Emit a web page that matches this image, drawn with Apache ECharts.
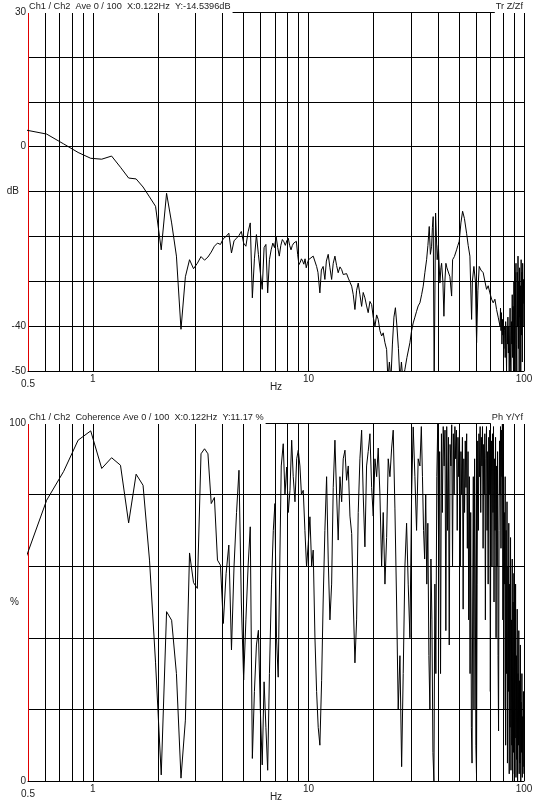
<!DOCTYPE html>
<html>
<head>
<meta charset="utf-8">
<script src="https://cdn.jsdelivr.net/npm/echarts@6/dist/echarts.min.js"></script>
<style>
  html, body { margin: 0; padding: 0; background: #fff; }
  #chart { width: 539px; height: 807px; }
</style>
</head>
<body>
<div id="chart"></div>
<script>
// grid lines / labels on the frequency axis
const xGridFreqs = [0.6, 0.7, 0.8, 0.9, 1, 2, 3, 4, 5, 6, 7, 8, 9, 10, 20, 30, 40, 50, 60, 70, 80, 90, 100];
const xLabelFreqs = [0.5, 1, 10, 100];
const magLabels = [30, 0, -40, -50];
const cohLabels = [100, 0];

// transfer function magnitude (dB)
const magFreq = [
  0.488, 0.610, 0.732, 0.854, 0.977, 1.099, 1.221, 1.343, 1.465, 1.587, 1.709, 1.831, 1.953, 2.075, 2.197, 2.319,
  2.441, 2.563, 2.686, 2.808, 2.930, 3.052, 3.174, 3.296, 3.418, 3.540, 3.662, 3.784, 3.906, 4.028, 4.150, 4.272,
  4.395, 4.517, 4.639, 4.761, 4.883, 5.005, 5.127, 5.249, 5.371, 5.493, 5.615, 5.737, 5.859, 5.981, 6.104, 6.226,
  6.348, 6.470, 6.592, 6.714, 6.836, 6.958, 7.080, 7.202, 7.324, 7.446, 7.568, 7.690, 7.812, 7.934, 8.057, 8.179,
  8.301, 8.423, 8.545, 8.667, 8.789, 8.911, 9.033, 9.155, 9.277, 9.399, 9.521, 9.644, 9.766, 9.888, 10.01,
  10.52, 10.91, 11.07, 11.30, 11.48, 11.70, 11.92, 12.11, 12.35, 12.58, 12.81, 13.03, 13.27, 13.51, 13.74, 14.00,
  14.26, 14.50, 14.77, 15.03, 15.30, 15.58, 15.87, 16.14, 16.43, 16.73, 17.02, 17.33, 17.65, 17.95, 18.28, 18.61,
  18.93, 19.29, 19.64, 19.98, 20.35, 20.72, 21.07, 21.46, 21.85, 22.23, 22.64, 23.05, 23.37, 23.74, 24.14, 24.52,
  24.92, 25.32, 25.73, 26.15, 26.57, 27.00, 27.43, 28.03, 28.63, 29.56, 30.10, 30.62, 31.18, 31.74, 32.29, 32.90,
  33.50, 34.08, 34.70, 35.33, 35.83, 36.34, 36.79, 37.27, 37.59, 37.91, 38.31, 38.89, 39.22, 39.56, 40.07, 40.73,
  41.17, 41.47, 42.05, 42.51, 42.96, 43.42, 43.89, 44.50, 45.32, 46.15, 46.64, 47.54, 48.67, 49.36, 50.06, 50.97,
  51.90, 52.91, 54.16, 55.09, 56.11, 57.14, 57.62, 58.56, 59.50, 60.26, 61.11, 61.97, 63.10, 64.67, 65.85, 67.04,
  68.21, 69.47, 70.74, 71.96, 73.28, 74.60, 75.90,
  77.4, 77.8, 78.2, 78.6, 79.0, 79.4, 79.8, 80.2, 80.6, 81.0, 81.4, 81.8, 82.2, 82.6, 83.0, 83.4,
  83.8, 84.2, 84.6, 85.0, 85.4, 85.8, 86.2, 86.6, 87.0, 87.4, 87.8, 88.2, 88.6, 89.0, 89.4, 89.8,
  90.2, 90.6, 91.0, 91.4, 91.8, 92.2, 92.6, 93.0, 93.4, 93.8, 94.2, 94.6, 95.0, 95.4, 95.8, 96.2,
  96.6, 97.0, 97.4, 97.8, 98.2, 98.6, 99.0, 99.4, 99.8
];
const magDb = [
  3.7, 2.8, 0.6, -1.3, -2.6, -2.8, -2.1, -4.6, -7.0, -7.2, -9.0, -11.2, -13.3, -23, -10.4, -17,
  -24.4, -40.7, -29, -25.2, -27.2, -26, -24.5, -25.3, -24.6, -23.5, -22.2, -21.5, -21.8, -20.5, -20.0, -19.3,
  -23.7, -21.0, -20.4, -19.8, -18.9, -21.5, -22.2, -19.0, -17.0, -33.7, -25.0, -19.6, -24, -28, -31.8, -22.5,
  -21.8, -32.6, -25.2, -23.0, -21.5, -22.5, -20.0, -22.5, -24.4, -22.0, -20.7, -21.2, -22.0, -21.0, -20.4, -22.0,
  -23.0, -22.0, -21.5, -21.8, -21.1, -24.0, -26.3, -25.8, -25.0, -25.5, -26.2, -25.0, -27.0, -26.0, -25.2,
  -24.4, -26.7, -28, -32.6, -27.5, -26.7, -29.6, -25.5, -24, -27, -29.6, -26, -24.4, -26.5, -28.1, -26.8,
  -27.4, -28.5, -28.9, -28.3, -29.3, -30.2, -31.1, -33, -36.3, -32, -30.4, -33, -35.6, -32.5, -33.7, -35.5,
  -37, -34.5, -35.2, -38, -40, -37.5, -38.5, -41, -42.2, -41.5, -43.7, -45.2, -52, -48, -52, -44,
  -38, -35.9, -40, -45, -52, -48, -52, -49.6, -47, -43.7, -41, -39.3, -38, -36.7, -35.5, -34.8,
  -33, -31.1, -28, -25.2, -22, -17.8, -24, -22.2, -18, -15.6, -52, -14.8, -20, -25.2, -22, -30.4,
  -27, -26, -30, -37.8, -30, -26, -27, -26.7, -29, -33.3, -25.2, -24.5, -23, -22, -21.1, -17,
  -14.4, -16, -19.3, -22, -24.4, -38.5, -30, -26.7, -30, -43.7, -32, -26.7, -27.5, -28.1, -30, -31.8,
  -31, -32.6, -34, -34.8, -34, -36.3, -38,
  -40, -36, -41, -37, -44, -38.5, -42, -38.5, -45, -40, -41, -47, -39, -43.7, -50, -40,
  -44, -38, -46, -40, -52, -42.2, -36, -48, -52, -39, -44, -33, -47, -35.6, -52, -30,
  -45, -28, -50, -30, -26, -44, -52, -28, -40, -24.4, -45, -30, -52, -27, -38, -31,
  -52, -25.2, -42, -28, -48, -26, -40, -29.6, -35
];

// coherence (%)
const cohFreq = [
  0.488, 0.610, 0.732, 0.854, 0.977, 1.099, 1.221, 1.343, 1.465, 1.587, 1.709, 1.831, 1.953, 2.075, 2.197, 2.319,
  2.441, 2.563, 2.686, 2.808, 2.930, 3.052, 3.174, 3.296, 3.418, 3.540, 3.662, 3.784, 3.906, 4.028, 4.150, 4.272,
  4.395, 4.517, 4.639, 4.761, 4.883, 5.005, 5.127, 5.249, 5.371, 5.493, 5.615, 5.737, 5.859, 5.981, 6.104, 6.226,
  6.348, 6.470, 6.592,
  6.74, 6.87, 6.99, 7.11, 7.24, 7.36, 7.48, 7.64, 7.78, 7.93, 8.06, 8.21, 8.36, 8.50, 8.66, 8.82,
  8.97, 9.13, 9.28, 9.46, 9.63, 9.80, 9.97, 10.16, 10.35, 10.52, 10.72, 10.91, 11.10, 11.30, 11.51, 11.70,
  11.92, 12.14, 12.35, 12.58, 12.81, 13.03, 13.27, 13.51, 13.74, 14.00, 14.26, 14.50, 14.77, 15.03, 15.30, 15.58,
  15.87, 16.14, 16.43, 16.73, 17.02, 17.33, 17.65, 17.95, 18.28, 18.61, 18.93, 19.29, 19.64, 19.98, 20.35, 20.72,
  21.07, 21.46, 21.85, 22.23, 22.64, 23.05, 23.45, 23.88, 24.32, 24.73, 25.19, 25.64, 26.09, 26.57, 27.06, 27.52,
  28.03, 28.53, 29.03, 29.56, 30.10, 30.62, 31.18, 31.74, 32.29, 32.90,
  33.0, 33.4, 33.8, 34.2, 34.6, 35.0, 35.4, 35.8, 36.2, 36.6, 37.0, 37.4, 37.8, 38.2, 38.6, 39.0,
  39.4, 39.8, 40.2, 40.6, 41.0, 41.4, 41.8, 42.2, 42.6, 43.0, 43.4, 43.8, 44.2, 44.6, 45.0, 45.4,
  45.8, 46.2, 46.6, 47.0, 47.4, 47.8, 48.2, 48.6, 49.0, 49.4, 49.8, 50.2, 50.6, 51.0, 51.4, 51.8,
  52.2, 52.6, 53.0, 53.4, 53.8, 54.2, 54.6, 55.0, 55.4, 55.8, 56.2, 56.6, 57.0, 57.4, 57.8, 58.2,
  58.6, 59.0, 59.4, 59.8, 60.2, 60.6, 61.0, 61.4, 61.8, 62.2, 62.6, 63.0, 63.4, 63.8, 64.2, 64.6,
  65.0, 65.4, 65.8, 66.2, 66.6, 67.0, 67.4, 67.8, 68.2, 68.6, 69.0, 69.4, 69.8, 70.2, 70.6, 71.0,
  71.4, 71.8, 72.2, 72.6, 73.0, 73.4, 73.8, 74.2, 74.6, 75.0, 75.4, 75.8, 76.2, 76.6, 77.0, 77.4,
  77.8, 78.2, 78.6, 79.0, 79.4, 79.8, 80.2, 80.6, 81.0, 81.4, 81.8, 82.2, 82.6, 83.0, 83.4, 83.8,
  84.2, 84.6, 85.0, 85.4, 85.8, 86.2, 86.6, 87.0, 87.4, 87.8, 88.2, 88.6, 89.0, 89.4, 89.8, 90.2,
  90.6, 91.0, 91.4, 91.8, 92.2, 92.6, 93.0, 93.4, 93.8, 94.2, 94.6, 95.0, 95.4, 95.8, 96.2, 96.6,
  97.0, 97.4, 97.8, 98.2, 98.6, 99.0, 99.4, 99.8
];
const cohPct = [
  62.2, 78.4, 86.5, 95.2, 97.8, 87.3, 90.3, 88.2, 72.1, 85.7, 82.6, 61.7, 33, 1.7, 47.3, 44.9,
  30, 0.8, 17, 63.7, 55.4, 53.8, 91.4, 92.8, 91.4, 77.5, 79.2, 61.7, 60.3, 44, 58, 65.9,
  36.6, 60, 75, 86.8, 50, 28.2, 45, 60, 71, 6.3, 25, 38, 42.1, 20, 4.5, 27.7,
  15, 3, 30,
  55, 70, 77.5, 40, 29, 60, 88, 94.2, 80, 87.7, 75, 81.2, 95.2, 85, 78, 90,
  92.4, 88, 80, 81.2, 70, 59.8, 66, 73.8, 60, 64.5, 40, 25, 15, 10, 28, 50,
  70, 85, 62, 45, 55, 82, 95.2, 80, 67.3, 85, 78, 90, 92.4, 84, 88, 74,
  69.1, 50, 33, 45, 75, 90, 98, 80, 65.4, 88, 92, 97, 82, 74, 90, 85,
  93, 80, 60, 75, 55, 68, 90, 85, 93, 98, 76, 50, 20, 35, 4, 30,
  60, 72, 55, 40, 80, 98.9, 85, 70, 90, 88,
  88, 99, 85, 70, 62, 80, 55, 72, 35, 20, 62, 45, 8, 0, 55, 30,
  85, 99.8, 60, 92, 30, 97, 75, 99, 88, 98, 42, 99, 70, 96, 38, 94,
  88, 99.5, 60, 97, 80, 99, 90, 98, 70, 96, 85, 98, 60, 92, 80, 96,
  48, 90, 75, 95, 82, 97, 65, 92, 45, 85, 30, 75, 15, 5, 50, 85,
  20, 90, 60, 10, 2, 55, 95, 70, 97, 85, 99, 75, 96, 88, 99, 65,
  94, 80, 97, 45, 90, 99, 70, 92, 55, 96, 80, 98, 25, 85, 95, 60,
  97, 75, 99, 50, 90, 70, 96, 40, 88, 60, 92, 35, 14, 70, 95, 80,
  99, 65, 98, 85, 99.8, 45, 90, 20, 75, 55, 85, 10, 70, 30, 78, 5,
  60, 25, 72, 2, 55, 15, 68, 3, 45, 10, 62, 0, 50, 8, 58, 2,
  40, 12, 55, 1, 35, 6, 48, 0, 30, 10, 42, 2, 28, 5, 38, 0,
  22, 8, 30, 1, 18, 4, 25, 2
];

const FONT = "'Liberation Sans', Arial, sans-serif";
const TEXT = '#222';

function pairs(xs, ys) {
  return xs.map((x, i) => [x, ys[i]]);
}

function freqAxis(gridIndex) {
  return {
    type: 'log',
    logBase: 10,
    gridIndex: gridIndex,
    min: 0.5,
    max: 100,
    name: 'Hz',
    nameLocation: 'middle',
    nameGap: 11,
    nameMoveOverlap: false,
    nameTextStyle: { color: TEXT, fontSize: 10, fontFamily: FONT },
    axisLine: { show: true, onZero: false, lineStyle: { color: '#000', width: 1 } },
    axisTick: { show: false, customValues: xGridFreqs },
    axisLabel: {
      customValues: xLabelFreqs,
      margin: 3,
      color: TEXT,
      fontSize: 10,
      fontFamily: FONT,
      formatter: v => (v === 0.5 ? '{low|0.5}' : String(v)),
      rich: { low: { padding: [5, 0, 0, 0], color: TEXT, fontSize: 10, fontFamily: FONT } }
    },
    splitLine: { show: true, lineStyle: { color: '#000', width: 1 } }
  };
}

function valueAxis(gridIndex, min, max, interval, name, shown) {
  return {
    type: 'value',
    gridIndex: gridIndex,
    min: min,
    max: max,
    interval: interval,
    name: name,
    nameLocation: 'middle',
    nameRotate: 0,
    nameGap: 9,
    nameMoveOverlap: false,
    nameTextStyle: { color: TEXT, fontSize: 10, fontFamily: FONT },
    axisLine: { show: true, onZero: false, lineStyle: { color: '#e00000', width: 1 } },
    axisTick: { show: false },
    axisLabel: {
      margin: 2,
      color: TEXT,
      fontSize: 10,
      fontFamily: FONT,
      formatter: v => (shown.includes(v) ? String(v) : '')
    },
    splitLine: { show: true, lineStyle: { color: '#000', width: 1 } }
  };
}

function headText(text, pos, top) {
  return Object.assign({
    text: text,
    top: top,
    padding: [1, 2, 2, 1],
    backgroundColor: '#fff',
    textStyle: { color: TEXT, fontSize: 9.2, fontWeight: 'normal', fontFamily: FONT }
  }, pos);
}

const chart = echarts.init(document.getElementById('chart'), null, { renderer: 'canvas' });

chart.setOption({
  animation: false,
  backgroundColor: '#fff',
  title: [
    headText('Ch1 / Ch2  Ave 0 / 100  X:0.122Hz  Y:-14.5396dB', { left: 28 }, 1),
    headText('Tr Z/Zf', { right: 14 }, 1),
    headText('Ch1 / Ch2  Coherence Ave 0 / 100  X:0.122Hz  Y:11.17 %', { left: 28 }, 412),
    headText('Ph Y/Yf', { right: 14 }, 412)
  ],
  grid: [
    { left: 28, right: 15, top: 12, height: 359, outerBoundsMode: 'none', containLabel: false },
    { left: 28, right: 15, top: 423, height: 358, outerBoundsMode: 'none', containLabel: false }
  ],
  xAxis: [freqAxis(0), freqAxis(1)],
  yAxis: [
    valueAxis(0, -50, 30, 10, 'dB', magLabels),
    valueAxis(1, 0, 100, 20, '%', cohLabels)
  ],
  series: [
    {
      type: 'line',
      xAxisIndex: 0,
      yAxisIndex: 0,
      showSymbol: false,
      clip: true,
      lineStyle: { color: '#000', width: 1 },
      data: pairs(magFreq, magDb)
    },
    {
      type: 'line',
      xAxisIndex: 1,
      yAxisIndex: 1,
      showSymbol: false,
      clip: true,
      lineStyle: { color: '#000', width: 1 },
      data: pairs(cohFreq, cohPct)
    }
  ]
});
</script>
</body>
</html>
